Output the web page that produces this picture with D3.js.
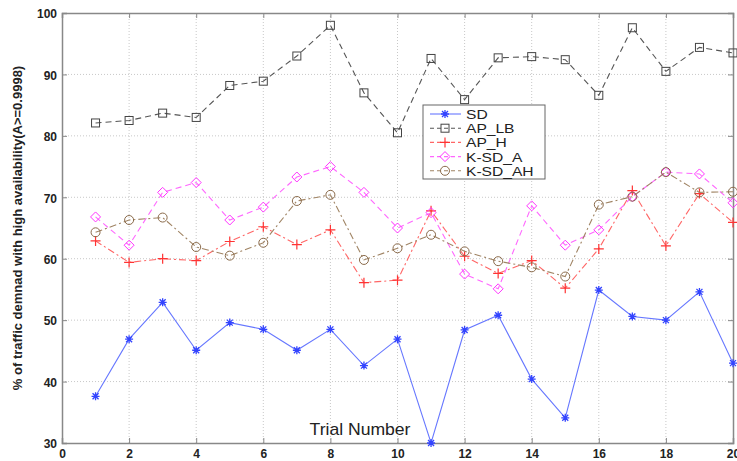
<!DOCTYPE html>
<html>
<head>
<meta charset="utf-8">
<script src="https://cdn.jsdelivr.net/npm/d3@7"></script>
<style>
  body { margin: 0; background: #fff; }
  svg { font-family: "Liberation Sans", Arial, sans-serif; }
  .grid line { stroke: #c8c8c8; stroke-dasharray: 1,2; }
  .tick text { font-weight: bold; font-size: 12px; fill: #222; }
</style>
</head>
<body>
<script>
// trial numbers and series values
var trials = d3.range(1, 21);
var sd    = [37.6, 46.9, 52.9, 45.1, 49.6, 48.5, 45.1, 48.5, 42.6, 46.9, 30.0, 48.4, 50.8, 40.4, 34.1, 54.9, 50.6, 50.0, 54.6, 43.0];
var apLb  = [82.1, 82.5, 83.7, 83.0, 88.2, 88.9, 93.0, 98.0, 87.0, 80.5, 92.6, 85.9, 92.7, 92.9, 92.4, 86.6, 97.6, 90.5, 94.4, 93.5];
var apH   = [62.9, 59.4, 60.0, 59.7, 62.8, 65.2, 62.3, 64.7, 56.1, 56.5, 67.8, 60.4, 57.6, 59.7, 55.2, 61.6, 71.1, 62.1, 70.6, 65.9];
var ksdA  = [66.8, 62.2, 70.8, 72.4, 66.3, 68.4, 73.3, 75.0, 70.8, 65.0, 67.5, 57.5, 55.1, 68.6, 62.2, 64.7, 70.1, 74.1, 73.8, 69.1];
var ksdAh = [64.3, 66.3, 66.7, 61.9, 60.5, 62.6, 69.4, 70.4, 59.8, 61.7, 63.9, 61.2, 59.6, 58.6, 57.1, 68.8, 70.1, 74.1, 70.8, 70.9];

var xTicks = d3.range(0, 21, 2);
var yTicks = d3.range(30, 101, 10);

var series = [
  {name: "SD",       values: sd,    color: "#3344ff", line: "#6677ff", dash: null,      marker: "star"},
  {name: "AP_LB",    values: apLb,  color: "#444444", line: "#555555", dash: "6,4",     marker: "square"},
  {name: "AP_H",     values: apH,   color: "#ff3333", line: "#ff6666", dash: "7,3,2,3", marker: "plus"},
  {name: "K-SD_A",   values: ksdA,  color: "#ff33ff", line: "#ff66ff", dash: "6,4",     marker: "diamond"},
  {name: "K-SD_AH",  values: ksdAh, color: "#8a6a4a", line: "#a08464", dash: "7,3,2,3", marker: "circle"}
];

var margin = {top: 13, right: 4, bottom: 18, left: 62},
    width = 737 - margin.left - margin.right,
    height = 461 - margin.top - margin.bottom;

var svg = d3.select("body").append("svg")
    .attr("width", 737)
    .attr("height", 461);

var g = svg.append("g")
    .attr("transform", "translate(" + margin.left + "," + margin.top + ")");

var x = d3.scaleLinear().domain([0, 20]).range([0, width]);
var y = d3.scaleLinear().domain([30, 100]).range([height, 0]);

// grid
g.append("g").attr("class", "grid")
  .selectAll("line").data(xTicks.slice(1, -1))
  .enter().append("line")
  .attr("x1", function(d) { return x(d); }).attr("x2", function(d) { return x(d); })
  .attr("y1", 0).attr("y2", height);
g.append("g").attr("class", "grid")
  .selectAll("line").data(yTicks.slice(1, -1))
  .enter().append("line")
  .attr("y1", function(d) { return y(d); }).attr("y2", function(d) { return y(d); })
  .attr("x1", 0).attr("x2", width);

// axes (ticks inward on all four sides)
var xAxis = g.append("g")
  .attr("transform", "translate(0," + height + ")")
  .call(d3.axisBottom(x).tickValues(xTicks).tickSize(-5).tickPadding(6));
var yAxis = g.append("g")
  .call(d3.axisLeft(y).tickValues(yTicks).tickSize(-5).tickPadding(5));
g.append("g")
  .call(d3.axisTop(x).tickValues(xTicks).tickSize(-5).tickFormat(""));
g.append("g")
  .attr("transform", "translate(" + width + ",0)")
  .call(d3.axisRight(y).tickValues(yTicks).tickSize(-5).tickFormat(""));
g.selectAll(".domain").attr("stroke", "#888").attr("stroke-width", 1.5);
g.selectAll(".tick line").attr("stroke", "#888");
yAxis.selectAll("text").attr("dy", "0.4em");

// axis labels
g.append("text")
  .attr("transform", "translate(298," + (height - 8) + ") scale(1.1,1)")
  .attr("text-anchor", "middle")
  .style("font-size", "16px").style("fill", "#222")
  .text("Trial Number");
svg.append("text")
  .attr("transform", "translate(22," + (margin.top + height / 2) + ") rotate(-90)")
  .attr("text-anchor", "middle")
  .style("font-size", "13px").style("font-weight", "bold").style("fill", "#222")
  .text("% of traffic demnad with high availability(A>=0.9998)");

function drawMarker(sel, type, color) {
  if (type === "star") {
    sel.append("path").attr("d", "M-4,0H4M0,-4V4M-3,-3L3,3M-3,3L3,-3")
      .attr("stroke", color).attr("stroke-width", 1.3).attr("fill", "none");
  } else if (type === "square") {
    sel.append("rect").attr("x", -4).attr("y", -4).attr("width", 8).attr("height", 8)
      .attr("stroke", color).attr("fill", "none");
  } else if (type === "plus") {
    sel.append("path").attr("d", "M-5,0H5M0,-5V5")
      .attr("stroke", color).attr("stroke-width", 1.2).attr("fill", "none");
  } else if (type === "diamond") {
    sel.append("path").attr("d", "M0,-5L5,0L0,5L-5,0Z")
      .attr("stroke", color).attr("fill", "none");
  } else if (type === "circle") {
    sel.append("circle").attr("r", 4.5)
      .attr("stroke", color).attr("fill", "none");
  }
}

var line = d3.line()
  .x(function(d, i) { return x(trials[i]); })
  .y(function(d) { return y(d); });

series.forEach(function(s) {
  g.append("path")
    .attr("d", line(s.values))
    .attr("fill", "none")
    .attr("stroke", s.line)
    .attr("stroke-width", 1.1)
    .attr("stroke-dasharray", s.dash);
  g.selectAll(null).data(s.values).enter().append("g")
    .attr("transform", function(d, i) { return "translate(" + x(trials[i]) + "," + y(d) + ")"; })
    .each(function() { drawMarker(d3.select(this), s.marker, s.color); });
});

// legend
var lg = svg.append("g").attr("transform", "translate(423,105)");
lg.append("rect").attr("width", 122).attr("height", 74)
  .attr("fill", "#fff").attr("stroke", "#666").attr("stroke-width", 1);
series.forEach(function(s, i) {
  var row = lg.append("g").attr("transform", "translate(0," + (9 + i * 14.2) + ")");
  row.append("line").attr("x1", 7).attr("x2", 38)
    .attr("stroke", s.line).attr("stroke-width", 1.1)
    .attr("stroke-dasharray", s.dash ? "4,3" : null);
  var m = row.append("g").attr("transform", "translate(22,0)");
  drawMarker(m, s.marker, s.color);
  row.append("text")
    .attr("transform", "translate(43,5) scale(1.2,1)")
    .style("font-size", "13px").style("fill", "#222")
    .text(s.name);
});
</script>
</body>
</html>
